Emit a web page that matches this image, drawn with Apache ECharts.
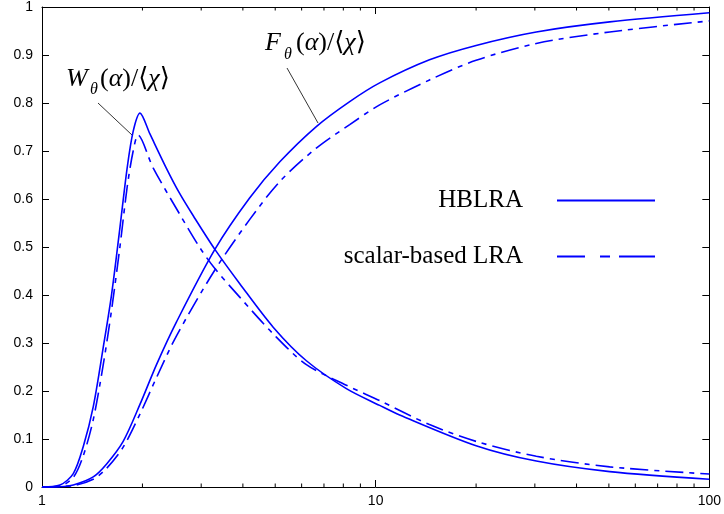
<!DOCTYPE html>
<html>
<head>
<meta charset="utf-8">
<script src="https://cdn.jsdelivr.net/npm/echarts@6/dist/echarts.min.js"></script>
<style>html,body{margin:0;padding:0;background:#fff}#c{width:724px;height:514px}</style>
</head>
<body>
<div id="c"></div>
<script>
// ---- data ----
const xTickLabels = ['1', '10', '100'];
const yTickLabels = ['0', '0.1', '0.2', '0.3', '0.4', '0.5', '0.6', '0.7', '0.8', '0.9', '1'];
const minorTickValues = [2, 3, 4, 5, 6, 7, 8, 9, 20, 30, 40, 50, 60, 70, 80, 90];

const alphaW_H = [1.0, 1.132, 1.241, 1.329, 1.424, 1.526, 1.617, 1.712, 1.800, 1.876, 1.966, 2.106, 2.36, 2.588, 2.84, 3.297, 3.92, 4.93, 6.20, 8.17, 10.28, 11.8, 20, 30.3, 50.3, 100];
const W_HBLRA  = [0.0, 0.004, 0.028, 0.084, 0.167, 0.291, 0.402, 0.540, 0.665, 0.741, 0.779, 0.7355, 0.664, 0.611, 0.565, 0.495, 0.423, 0.333, 0.263, 0.205, 0.170, 0.150, 0.086, 0.054, 0.032, 0.016];

const alphaW_S = [1.0, 1.132, 1.241, 1.329, 1.424, 1.526, 1.617, 1.712, 1.800, 1.876, 1.94, 2.153, 2.588, 2.97, 3.297, 3.92, 4.93, 6.20, 8.17, 10.28, 14.5, 20, 30.3, 50.3, 100];
const W_scalar = [0.0, 0.002, 0.020, 0.065, 0.140, 0.255, 0.370, 0.500, 0.625, 0.700, 0.733, 0.665, 0.568, 0.499, 0.455, 0.395, 0.319, 0.255, 0.212, 0.180, 0.130, 0.095, 0.064, 0.042, 0.027];

const alphaF_H = [1.0, 1.132, 1.241, 1.424, 1.562, 1.751, 1.966, 2.204, 2.53, 3.297, 4.19, 5.17, 6.64, 8.36, 10.28, 14.5, 20, 30.3, 50.3, 100];
const F_HBLRA  = [0.0, 0.0005, 0.004, 0.021, 0.048, 0.095, 0.172, 0.255, 0.344, 0.495, 0.602, 0.678, 0.751, 0.803, 0.842, 0.890, 0.920, 0.948, 0.969, 0.988];

const alphaF_S = [1.0, 1.241, 1.424, 1.562, 1.751, 1.966, 2.204, 2.53, 3.297, 4.19, 5.17, 6.64, 8.36, 10.28, 14.5, 20, 30.3, 50.3, 100];
const F_scalar = [0.0, 0.003, 0.016, 0.039, 0.083, 0.152, 0.228, 0.315, 0.452, 0.557, 0.637, 0.706, 0.755, 0.796, 0.848, 0.889, 0.924, 0.948, 0.971];

const seriesNames = ['HBLRA', 'scalar-based LRA'];

// ---- chart ----
const zip = (xs, ys) => xs.map((x, i) => [x, ys[i]]);
const BLUE = '#0000ff';
const DASH = [18, 6, 5, 6];
const serif = '"Liberation Serif", "DejaVu Serif", serif';
const sans = '"Liberation Sans", Arial, sans-serif';

const chart = echarts.init(document.getElementById('c'), null, { renderer: 'canvas' });

function lineSeries(name, data, dashed) {
  return {
    name: name, type: 'line', data: data, symbol: 'none', showSymbol: false,
    smooth: 0.3, animation: false, z: 3,
    lineStyle: { color: BLUE, width: 1.6, type: dashed ? DASH : 'solid' },
    itemStyle: { color: BLUE }
  };
}

const xAxisBase = {
  type: 'log', logBase: 10, min: 1, max: 100,
  axisLine: { show: true, onZero: false, lineStyle: { color: '#000', width: 1 } },
  axisTick: { show: true, inside: true, length: 7, lineStyle: { color: '#000', width: 1 } },
  splitLine: { show: false }, minorTick: { show: false }
};
const yAxisBase = {
  type: 'value', min: 0, max: 1, interval: 0.1,
  axisLine: { show: true, onZero: false, lineStyle: { color: '#000', width: 1 } },
  axisTick: { show: true, inside: true, length: 7, lineStyle: { color: '#000', width: 1 } },
  splitLine: { show: false }
};

const legendBase = {
  orient: 'horizontal', right: 68, padding: 0, align: 'right',
  itemWidth: 98, itemHeight: 14, selectedMode: false,
  itemStyle: { color: 'rgba(0,0,0,0)', borderColor: 'rgba(0,0,0,0)', borderWidth: 0, opacity: 0 },
  textStyle: { fontFamily: serif, fontSize: 25, color: '#000', padding: [0, 29, 0, 0] }
};

chart.setOption({
  animation: false,
  backgroundColor: '#fff',
  grid: { left: 42, right: 14, top: 5, bottom: 27, containLabel: false },
  xAxis: [
    Object.assign({}, xAxisBase, {
      position: 'bottom',
      axisLabel: {
        show: true, color: '#000', fontFamily: sans, fontSize: 14, margin: 7,
        formatter: v => xTickLabels[Math.round(Math.log10(v))]
      }
    }),
    Object.assign({}, xAxisBase, { position: 'top', axisLabel: { show: false } })
  ],
  yAxis: [
    Object.assign({}, yAxisBase, {
      position: 'left',
      axisLabel: {
        show: true, color: '#000', fontFamily: sans, fontSize: 14, margin: 9,
        formatter: v => yTickLabels[Math.round(v * 10)]
      }
    }),
    Object.assign({}, yAxisBase, { position: 'right', axisLabel: { show: false } })
  ],
  legend: [
    Object.assign({}, legendBase, { data: [seriesNames[0]], top: 188 }),
    Object.assign({}, legendBase, { data: [seriesNames[1]], top: 244,
      lineStyle: { type: [28, 15, 10, 9, 36, 10] } })
  ],
  series: [
    lineSeries(seriesNames[0], zip(alphaW_H, W_HBLRA), false),
    lineSeries(seriesNames[0], zip(alphaF_H, F_HBLRA), false),
    lineSeries(seriesNames[1], zip(alphaW_S, W_scalar), true),
    lineSeries(seriesNames[1], zip(alphaF_S, F_scalar), true),
    {
      name: 'minorTicks', type: 'custom', silent: true, animation: false, z: 4,
      data: minorTickValues.map(v => [v, 0]),
      renderItem: function (params, api) {
        const v = api.value(0);
        const b = api.coord([v, 0]);
        const t = api.coord([v, 1]);
        return {
          type: 'group', children: [
            { type: 'line', shape: { x1: b[0], y1: b[1], x2: b[0], y2: b[1] - 3.5 }, style: { stroke: '#000', lineWidth: 1 } },
            { type: 'line', shape: { x1: t[0], y1: t[1], x2: t[0], y2: t[1] + 3.5 }, style: { stroke: '#000', lineWidth: 1 } }
          ]
        };
      }
    }
  ],
  graphic: [
    // W label
    { type: 'text', x: 66, y: 79, style: { text: 'W', font: 'italic 26px ' + serif, fill: '#000', verticalAlign: 'middle' } },
    { type: 'text', x: 90, y: 90, style: { text: 'θ', font: 'italic 16px ' + serif, fill: '#000', verticalAlign: 'middle' } },
    { type: 'text', x: 100, y: 79, style: {
        text: '{n|(}{i|α}{n|)/⟨}{i|χ}{n|⟩}', verticalAlign: 'middle', fill: '#000',
        rich: { n: { fontFamily: serif, fontSize: 26, fontStyle: 'normal', color: '#000' },
                i: { fontFamily: serif, fontSize: 26, fontStyle: 'italic', color: '#000' } } } },
    // F label
    { type: 'text', x: 265, y: 43, style: { text: 'F', font: 'italic 26px ' + serif, fill: '#000', verticalAlign: 'middle' } },
    { type: 'text', x: 284, y: 55, style: { text: 'θ', font: 'italic 16px ' + serif, fill: '#000', verticalAlign: 'middle' } },
    { type: 'text', x: 296, y: 43, style: {
        text: '{n|(}{i|α}{n|)/⟨}{i|χ}{n|⟩}', verticalAlign: 'middle', fill: '#000',
        rich: { n: { fontFamily: serif, fontSize: 26, fontStyle: 'normal', color: '#000' },
                i: { fontFamily: serif, fontSize: 26, fontStyle: 'italic', color: '#000' } } } },
    // leader lines
    { type: 'line', shape: { x1: 98, y1: 103, x2: 132, y2: 135 }, style: { stroke: '#000', lineWidth: 0.8 } },
    { type: 'line', shape: { x1: 287, y1: 68, x2: 318, y2: 123 }, style: { stroke: '#000', lineWidth: 0.8 } }
  ]
});
</script>
</body>
</html>
